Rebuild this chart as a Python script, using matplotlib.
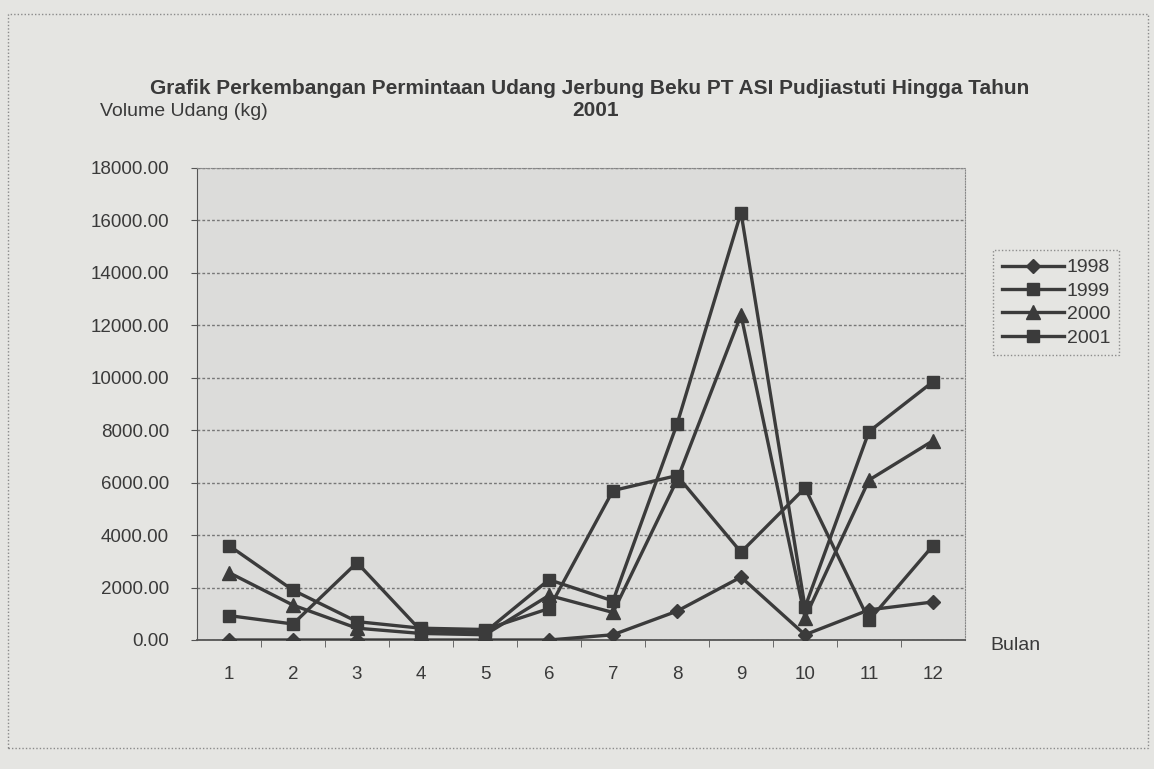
import matplotlib
matplotlib.use("Agg")
import matplotlib.pyplot as plt
from matplotlib.patches import Rectangle

plt.rcParams['font.family'] = ['Liberation Sans', 'DejaVu Sans']

# data (kg per month)
bulan = [1, 2, 3, 4, 5, 6, 7, 8, 9, 10, 11, 12]
v1998 = [0, 0, 0, 0, 0, 0, 200, 1100, 2400, 200, 1150, 1450]
v1999 = [3600, 1900, 700, 450, 400, 1200, 5700, 6270, 3350, 5800, 750, 3600]
v2000 = [2570, 1330, 450, 250, 200, 1700, 1050, 6100, 12400, 850, 6100, 7600]
v2001 = [930, 610, 2950, 350, 300, 2300, 1490, 8230, 16300, 1250, 7950, 9850]
y_ticks = [0, 2000, 4000, 6000, 8000, 10000, 12000, 14000, 16000, 18000]

paper = '#e5e5e2'
ink = '#3b3b3b'

fig = plt.figure(figsize=(11.54, 7.69), dpi=100, facecolor=paper)
ax = fig.add_axes([197/1154, 1-640/769, (965-197)/1154, (640-168)/769])
ax.set_facecolor('#dcdcda')

series = [(v1998, 'D', 7.5, '1998'), (v1999, 's', 9, '1999'),
          (v2000, '^', 9.5, '2000'), (v2001, 's', 9, '2001')]
for vals, mk, ms, lab in series:
    ax.plot(bulan, vals, color=ink, lw=2.4, marker=mk, markersize=ms,
            markerfacecolor=ink, markeredgecolor=ink, label=lab, zorder=3)

ax.set_xlim(0.5, 12.5)
ax.set_ylim(0, 18000)
ax.set_yticks(y_ticks)
ax.set_yticklabels(['%.2f' % t for t in y_ticks], fontsize=13.5, color='#3a3a3a')
ax.set_xticks(bulan)
ax.set_xticklabels([str(b) for b in bulan], fontsize=13.5, color='#3a3a3a')
ax.set_xticks([b + 0.5 for b in bulan[:-1]], minor=True)
ax.tick_params(axis='x', which='major', length=0, pad=19)
ax.tick_params(axis='x', which='minor', length=5, color='#555555')
ax.tick_params(axis='y', length=4, color='#555555', pad=16)

ax.grid(axis='y', color='#777777', lw=1.0, linestyle=(0, (2, 1.5)))
ax.set_axisbelow(True)
for side in ['top', 'right']:
    ax.spines[side].set_color('#888888')
    ax.spines[side].set_linestyle((0, (1, 1.5)))
ax.spines['left'].set_color('#555555')
ax.spines['bottom'].set_color('#555555')
ax.spines['bottom'].set_linewidth(1.3)

fig.text(590/1154, 1-88/769,
         'Grafik Perkembangan Permintaan Udang Jerbung Beku PT ASI Pudjiastuti Hingga Tahun',
         ha='center', va='center', fontsize=15, fontweight='bold', color='#3a3a3a')
fig.text(596/1154, 1-111/769, '2001', ha='center', va='center',
         fontsize=15, fontweight='bold', color='#3a3a3a')
fig.text(100/1154, 1-111/769, 'Volume Udang (kg)', ha='left', va='center',
         fontsize=14, color='#3a3a3a')
fig.text(990/1154, 1-645/769, 'Bulan', ha='left', va='center',
         fontsize=14, color='#3a3a3a')

leg = fig.legend(loc='upper left', bbox_to_anchor=(993/1154, 1-250/769),
                 borderaxespad=0, frameon=True, fontsize=14, handlelength=3.2,
                 handletextpad=0.15, labelspacing=0.3, borderpad=0.45,
                 fancybox=False)
leg.get_frame().set_facecolor(paper)
leg.get_frame().set_edgecolor('#777777')
leg.get_frame().set_linestyle((0, (1, 1.5)))
for t in leg.get_texts():
    t.set_color('#3a3a3a')

# outer chart border
fig.patches.append(Rectangle((8/1154, 1-748/769), 1140/1154, (748-14)/769,
                             transform=fig.transFigure, fill=False,
                             edgecolor='#8a8a8a', lw=1, linestyle=(0, (1, 1.5))))

fig.savefig('out.png', dpi=100, facecolor=paper)
